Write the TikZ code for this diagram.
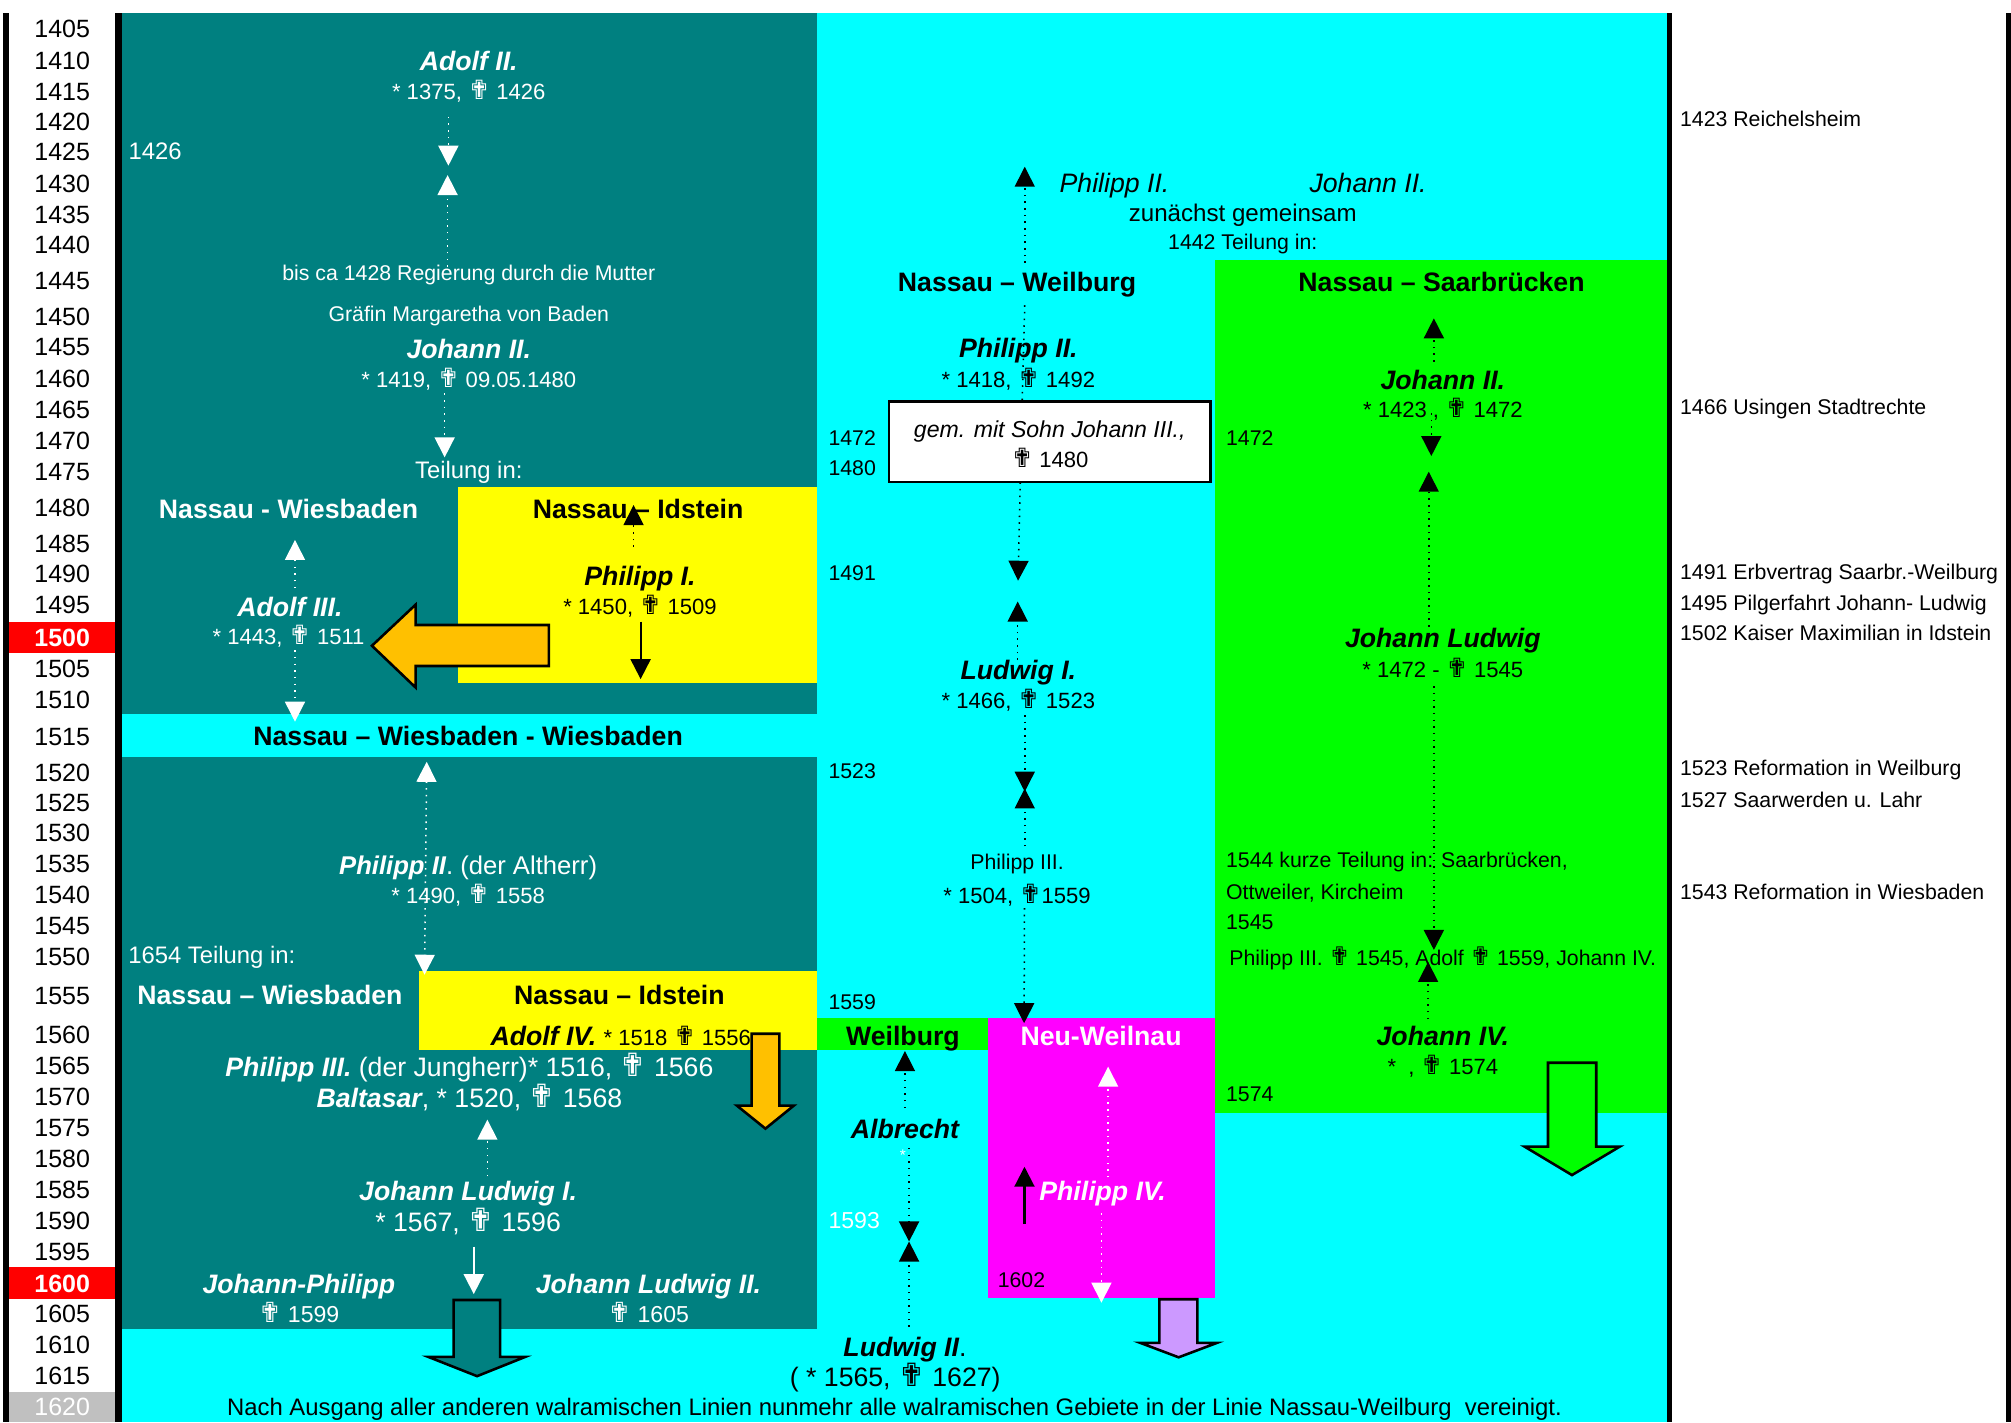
\documentclass[tikz,border=0pt]{standalone}
\usepackage{fontspec}
\setmainfont{Liberation Sans}
\newfontfamily\symf[Scale=1.2]{DejaVu Sans}
\usetikzlibrary{arrows.meta}
\definecolor{tealc}{HTML}{008080}
\definecolor{cyanc}{HTML}{00FFFF}
\definecolor{greenc}{HTML}{00FF00}
\definecolor{yellc}{HTML}{FFFF00}
\definecolor{magc}{HTML}{FF00FF}
\definecolor{redc}{HTML}{FF0000}
\definecolor{grayc}{HTML}{C0C0C0}
\definecolor{orngc}{HTML}{FFC000}
\definecolor{lavc}{HTML}{CC99FF}
\newcommand\kr{{\symf ✟}}
\begin{document}
\begin{tikzpicture}[x=0.5pt,y=-0.5pt,
  every node/.style={inner sep=0pt,outer sep=0pt},
  fB/.style={font=\fontsize{10.4}{12}\selectfont,text height=7.5pt,text depth=0pt},
  fBb/.style={font=\fontsize{10.4}{12}\selectfont\bfseries,text height=7.5pt,text depth=0pt},
  fBi/.style={font=\fontsize{10.4}{12}\selectfont\itshape,text height=7.5pt,text depth=0pt},
  fBn/.style={font=\fontsize{10.4}{12}\selectfont\bfseries\itshape,text height=7.5pt,text depth=0pt},
  fM/.style={font=\fontsize{9.3}{11}\selectfont,text height=6.7pt,text depth=0pt},
  fD/.style={font=\fontsize{8.6}{10}\selectfont,text height=6.2pt,text depth=0pt},
  fS/.style={font=\fontsize{8.3}{10}\selectfont,text height=6pt,text depth=0pt},
  yl/.style={font=\fontsize{9.75}{11}\selectfont,text height=7pt,text depth=0pt},
  wt/.style={text=white},
  tipT/.tip={Triangle[width=7.8pt,length=7.8pt]},
  dotw/.style={draw=white,dotted,line width=0.6pt,-tipT},
  dotb/.style={draw=black,dotted,line width=0.6pt,-tipT},
  solw/.style={draw=white,line width=0.8pt,-tipT},
  solb/.style={draw=black,line width=0.8pt,-tipT},
  blockarr/.style={draw=black,line width=1pt,line join=miter}
]
\useasboundingbox (0,0) rectangle (1568,1109);
\fill[white] (0,0) rectangle (1568,1109);
% ---------- background areas ----------
\fill[cyanc] (95,10) rectangle (1300,1109);
\fill[tealc] (95,10) rectangle (637,557);
\fill[tealc] (95,590) rectangle (637,1036);
\fill[greenc] (947,203) rectangle (1300,868);
\fill[yellc] (357,380) rectangle (637,532.5);
\fill[yellc] (327,757) rectangle (637,818.5);
\fill[greenc] (637,794) rectangle (770,818.5);
\fill[magc] (770,794) rectangle (947,1012);
% ---------- bars ----------
\fill[black] (2.6,10) rectangle (7,1109);
\fill[black] (90,10) rectangle (95,1109);
\fill[black] (1299.5,10) rectangle (1304,1109);
\fill[black] (1564,10) rectangle (1568,1109);
\fill[redc] (7,485) rectangle (90,509);
\fill[redc] (7,988) rectangle (90,1012.5);
\fill[grayc] (7,1085) rectangle (90,1109);
% ---------- year column ----------
\foreach \yr/\yy in {1405/22.5,1410/47,1415/71,1420/95,1425/118.5,1430/143,1435/167,1440/191,1445/219,1450/247,1455/270.5,1460/295,1465/319,1470/343.5,1475/367.5,1480/395.5,1485/423.5,1490/447.5,1495/471.5,1505/521.5,1510/545.5,1515/574,1520/602,1525/625.5,1530/649.5,1535/673.5,1540/697.5,1545/721.5,1550/745.5,1555/776.5,1560/806.5,1565/830.5,1570/855,1575/879.5,1580/903.5,1585/927.5,1590/951.5,1595/976,1605/1024.5,1610/1048.5,1615/1072.5}
  \node[yl] (yr\yr) at (48.5,\yy) {\yr};
\node[yl,wt,font=\fontsize{9.75}{11}\selectfont\bfseries] (yr1500) at (48.5,497) {1500};
\node[yl,wt,font=\fontsize{9.75}{11}\selectfont\bfseries] (yr1600) at (48.5,1000.5) {1600};
\node[yl,wt] (yr1620) at (48.5,1096.5) {1620};
% ---------- right notes ----------
\node[fS,anchor=west] (n1423) at (1310,92.5) {1423 Reichelsheim};
\node[fS,anchor=west] (n1466) at (1310,317) {1466 Usingen Stadtrechte};
\node[fS,anchor=west] (n1491) at (1310,446) {1491 Erbvertrag Saarbr.-Weilburg};
\node[fS,anchor=west] (n1495) at (1310,470) {1495 Pilgerfahrt Johann- Ludwig};
\node[fS,anchor=west] (n1502) at (1310,493.5) {1502 Kaiser Maximilian in Idstein};
\node[fS,anchor=west] (n1523) at (1310,599) {1523 Reformation in Weilburg};
\node[fS,anchor=west] (n1527) at (1310,623.5) {1527 Saarwerden u. Lahr};
\node[fS,anchor=west] (n1543) at (1310,695.5) {1543 Reformation in Wiesbaden};
% ---------- teal column texts ----------
\node[fBn,wt] (adolf2) at (365.5,47.5) {Adolf II.};
\node[fD,wt] (adolf2d) at (365.5,71.5) {* 1375, \kr\ 1426};
\node[fM,wt,anchor=west] (t1426) at (100.3,117.7) {1426};
\node[fS,wt] (bisca) at (365.5,213) {bis ca 1428 Regierung durch die Mutter};
\node[fS,wt] (graefin) at (365.5,244.8) {Gräfin Margaretha von Baden};
\node[fBn,wt] (johann2) at (365.5,272) {Johann II.};
\node[fD,wt] (johann2d) at (365.5,296.3) {* 1419, \kr\ 09.05.1480};
\node[fM,wt] (teilung) at (365.5,366.5) {Teilung in:};
\node[fBb,wt] (nwies) at (225,397) {Nassau - Wiesbaden};
\node[fBb] (nidst) at (497.5,397) {Nassau – Idstein};
\node[fBn] (philipp1) at (499,449) {Philipp I.};
\node[fD] (philipp1d) at (499,473) {* 1450, \kr\ 1509};
\node[fBn,wt] (adolf3) at (226,473) {Adolf III.};
\node[fD,wt] (adolf3d) at (225,496.5) {* 1443, \kr\ 1511};
\node[fBb] (nwww) at (365,574) {Nassau – Wiesbaden - Wiesbaden};
\node[fB,wt,font=\fontsize{10}{12}\selectfont] (philipp2w) at (365,674.5) {{\bfseries\itshape Philipp II}. (der Altherr)};
\node[fD,wt] (philipp2wd) at (365,698) {* 1490, \kr\ 1558};
\node[fM,wt,anchor=west] (t1654) at (100,744.6) {1654 Teilung in:};
\node[fBb,wt] (nwies2) at (210.5,776) {Nassau – Wiesbaden};
\node[fBb] (nidst2) at (483,776) {Nassau – Idstein};
\node[fB] (adolf4) at (484,807.5) {{\bfseries\itshape Adolf IV.} {\fontsize{8.6}{10}\selectfont * 1518 \kr\ 1556}};
\node[fB,wt] (philipp3) at (366,831.7) {{\bfseries\itshape Philipp III.} (der Jungherr)* 1516, \kr\ 1566};
\node[fB,wt] (baltasar) at (366,856) {{\bfseries\itshape Baltasar}, * 1520, \kr\ 1568};
\node[fBn,wt] (jl1) at (365,928.4) {Johann Ludwig I.};
\node[fB,wt] (jl1d) at (365,952.6) {* 1567, \kr\ 1596};
\node[fBn,wt] (jphil) at (233,1001) {Johann-Philipp};
\node[fD,wt,font=\fontsize{9}{10}\selectfont] (jphild) at (233,1024.6) {\kr\ 1599};
\node[fBn,wt] (jl2) at (505.6,1001) {Johann Ludwig II.};
\node[fD,wt,font=\fontsize{9}{10}\selectfont] (jl2d) at (505.6,1024.6) {\kr\ 1605};
% ---------- cyan / green column texts ----------
\node[fBi] (phil2top) at (869,142.4) {Philipp II.};
\node[fBi] (joh2top) at (1066.7,142.4) {Johann II.};
\node[fM,font=\fontsize{9.4}{11}\selectfont] (zunaechst) at (969,166.3) {zunächst gemeinsam};
\node[fS] (t1442) at (969,188.4) {1442 Teilung in:};
\node[fBb] (nweil) at (793,219.6) {Nassau – Weilburg};
\node[fBb] (nsaar) at (1124,219.6) {Nassau – Saarbrücken};
\node[fBn] (phil2) at (794,271.6) {Philipp II.};
\node[fD] (phil2d) at (794,295.8) {* 1418, \kr\ 1492};
\coordinate (lnA) at (799,238);
\coordinate (lnB) at (797,313);
\draw[draw=black,dotted,line width=0.6pt] (lnA) -- (lnB);
\node[draw=black,fill=white,line width=1pt,minimum width=125.5pt,minimum height=31.3pt] (gembox) at (818.5,344.5) {};
\node[fBi,font=\fontsize{9}{11}\selectfont\itshape] (gem1) at (818.5,334) {gem. mit Sohn Johann III.,};
\node[fD] (gem2) at (818.5,358) {\kr\ 1480};
\node[fS,anchor=west] (t1472a) at (646,341.3) {1472};
\node[fS,anchor=west] (t1480) at (646,365) {1480};
\node[fS,anchor=west] (t1472b) at (956,341.3) {1472};
\node[fBn] (joh2s) at (1125,296.3) {Johann II.};
\node[fD] (joh2sd) at (1125,319.7) {* 1423 , \kr\ 1472};
\node[fS,anchor=west] (t1491) at (646,447) {1491};
\node[fBn] (ludwig1) at (794,522.4) {Ludwig I.};
\node[fD] (ludwig1d) at (794,546.3) {* 1466, \kr\ 1523};
\node[fS,anchor=west] (t1523) at (646,601) {1523};
\node[fBn] (jlud) at (1125,497.7) {Johann Ludwig};
\node[fD] (jludd) at (1125,521.9) {* 1472 - \kr\ 1545};
\node[fS] (phil3c) at (793,671.9) {Philipp III.};
\node[fD] (phil3cd) at (793,697.9) {* 1504, \kr1559};
\node[fS,anchor=west] (kurze) at (956,670.6) {1544 kurze Teilung in: Saarbrücken,};
\node[fS,anchor=west] (ottw) at (956,695.3) {Ottweiler, Kircheim};
\node[fS,anchor=west] (t1545) at (956,718.7) {1545};
\node[fS,anchor=west] (phil3s) at (958.6,747) {Philipp III. \kr\ 1545, Adolf \kr\ 1559, Johann IV.};
\node[fS,anchor=west] (t1559) at (646,781) {1559};
\node[fBb] (weilb) at (704,807.5) {Weilburg};
\node[fBb,wt] (neuw) at (858.5,807.5) {Neu-Weilnau};
\node[fBn] (joh4) at (1125,807.5) {Johann IV.};
\node[fD] (joh4d) at (1125,831.7) {* \ , \kr\ 1574};
\node[fS,anchor=west] (t1574) at (956,853) {1574};
\node[fBn] (albrecht) at (705.6,880.3) {Albrecht};
\node[fS,wt,font=\fontsize{6}{7}\selectfont] (star) at (704,899) {*};
\node[fM,wt,font=\fontsize{9}{10}\selectfont,anchor=west] (t1593) at (646,951.3) {1593};
\node[fBn,wt] (phil4) at (859.7,928.4) {Philipp IV.};
\node[fS,anchor=west] (t1602) at (778,998) {1602};
\node[fB] (ludwig2) at (705.6,1050) {{\bfseries\itshape Ludwig II}.};
\node[fB] (ludwig2d) at (698,1073.4) {( * 1565, \kr\ 1627)};
\node[fM] (nach) at (697.5,1097) {Nach Ausgang aller anderen walramischen Linien nunmehr alle walramischen Gebiete in der Linie Nassau-Weilburg\ \ vereinigt.};
% ---------- block arrows ----------
\draw[blockarr,fill=orngc] (290,503.5) -- (324,471.5) -- (324,487.3) -- (428,487.3) -- (428,519.3) -- (324,519.3) -- (324,536) -- cycle;
\draw[blockarr,fill=orngc] (586,806) -- (607.7,806) -- (607.7,862) -- (619,862) -- (596.8,880) -- (574.5,862) -- (586,862) -- cycle;
\draw[blockarr,fill=tealc] (353.7,1013.6) -- (390,1013.6) -- (390,1058) -- (409.5,1058) -- (372,1073) -- (334,1058) -- (353.7,1058) -- cycle;
\draw[blockarr,fill=greenc] (1207,828.6) -- (1244.6,828.6) -- (1244.6,894) -- (1263,894) -- (1225.7,916.2) -- (1188.7,894) -- (1207,894) -- cycle;
\draw[blockarr,fill=lavc] (904,1013) -- (933.6,1013) -- (933.6,1047) -- (949,1047) -- (919,1058.3) -- (889,1047) -- (904,1047) -- cycle;
% ---------- small arrows: teal column ----------
\coordinate (a1s) at (349.6,91);    \coordinate (a1e) at (349.6,129.2);
\coordinate (a2s) at (349,208);     \coordinate (a2e) at (349,136.5);
\coordinate (a3s) at (346.7,306.7); \coordinate (a3e) at (346.7,356.6);
\coordinate (a4s) at (494,426.5);   \coordinate (a4e) at (494,393.8);
\coordinate (a5s) at (499.5,484.7); \coordinate (a5e) at (499.5,529.5);
\coordinate (a6s) at (230,458.5);   \coordinate (a6e) at (230,421);
\coordinate (a7s) at (230,507);     \coordinate (a7e) at (230,562.7);
\coordinate (a8s) at (332.7,594);   \coordinate (a8e) at (331,760);
\coordinate (a10s) at (380,917);    \coordinate (a10e) at (380,873);
\coordinate (a11s) at (369.4,972);  \coordinate (a11e) at (369.4,1009);
\draw[dotw] (a1s) -- (a1e);
\draw[dotw] (a2s) -- (a2e);
\draw[dotw] (a3s) -- (a3e);
\draw[dotb] (a4s) -- (a4e);
\draw[solb] (a5s) -- (a5e);
\draw[dotw] (a6s) -- (a6e);
\draw[dotw] (a7s) -- (a7e);
\draw[dotw,tipT-tipT] (a8s) -- (a8e);
\draw[dotw] (a10s) -- (a10e);
\draw[solw] (a11s) -- (a11e);
% ---------- small arrows: cyan / green / magenta ----------
\coordinate (b1s) at (799,205);     \coordinate (b1e) at (799,130);
\coordinate (b2s) at (795.5,376);   \coordinate (b2e) at (793.8,452.8);
\coordinate (b3s) at (793.5,514.6); \coordinate (b3e) at (793.5,469);
\coordinate (b4s) at (799,557.5);   \coordinate (b4e) at (799,617.3);
\coordinate (b5s) at (799,660);     \coordinate (b5e) at (799,614.7);
\coordinate (b6s) at (798.8,708);   \coordinate (b6e) at (798.5,797.8);
\coordinate (c1s) at (1118,282);    \coordinate (c1e) at (1118,248.2);
\coordinate (c2s) at (1116,322);    \coordinate (c2e) at (1116,355.6);
\coordinate (c3s) at (1114,488.6);  \coordinate (c3e) at (1114,367.8);
\coordinate (c4s) at (1118,535);    \coordinate (c4e) at (1118,740.7);
\coordinate (c5s) at (1113.5,794.6);\coordinate (c5e) at (1113.5,750);
\coordinate (d1s) at (705.6,864);   \coordinate (d1e) at (705.6,819.5);
\coordinate (d2s) at (708.8,895);   \coordinate (d2e) at (708.8,968);
\coordinate (d3s) at (708.8,1034.5);\coordinate (d3e) at (708.8,968);
\coordinate (e1s) at (798.8,954.4); \coordinate (e1e) at (798.8,909.7);
\coordinate (e2s) at (864,918);     \coordinate (e2e) at (864,831.7);
\coordinate (e3s) at (858.8,946);   \coordinate (e3e) at (858.8,1015.7);
\draw[dotb] (b1s) -- (b1e);
\draw[dotb] (b2s) -- (b2e);
\draw[dotb] (b3s) -- (b3e);
\draw[dotb] (b4s) -- (b4e);
\draw[dotb] (b5s) -- (b5e);
\draw[dotb] (b6s) -- (b6e);
\draw[dotb] (c1s) -- (c1e);
\draw[dotb] (c2s) -- (c2e);
\draw[dotb] (c3s) -- (c3e);
\draw[dotb] (c4s) -- (c4e);
\draw[dotb] (c5s) -- (c5e);
\draw[dotb] (d1s) -- (d1e);
\draw[dotb] (d2s) -- (d2e);
\draw[dotb] (d3s) -- (d3e);
\draw[solb] (e1s) -- (e1e);
\draw[dotw] (e2s) -- (e2e);
\draw[dotw] (e3s) -- (e3e);
\end{tikzpicture}
\end{document}
